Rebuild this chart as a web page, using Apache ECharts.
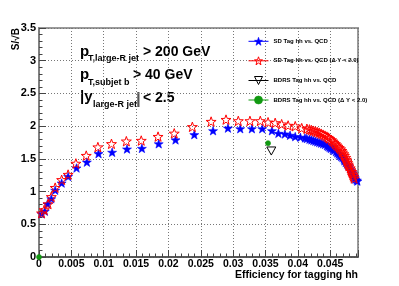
<!DOCTYPE html>
<html><head><meta charset="utf-8">
<script src="https://cdn.jsdelivr.net/npm/echarts@6/dist/echarts.min.js"></script>
<style>html,body{margin:0;padding:0;background:#fff}#c{width:399px;height:286px}</style>
</head><body><div id="c"></div>
<script>
// SD Tag hh vs. QCD
var blueX = [0.0004,0.0009,0.0013,0.0019,0.0025,0.0035,0.0045,0.0058,0.0074,0.0092,0.0113,0.0136,0.0159,0.0185,0.0211,0.0240,0.0269,0.0292,0.0311,0.0329,0.0345,0.0360,0.0370,0.0380,0.0388,0.0396,0.0404,
  0.0411,0.0414,0.0418,0.0421,0.0424,0.0427,0.0430,0.0433,0.0436,0.0439,0.0442,0.0445,0.0447,0.0449,0.0451,0.0454,0.0456,0.0459,0.0461,0.0463,0.0465,0.0467,0.0469,0.0471,0.0472,0.0474,0.0476,0.0478,0.0479,0.0481,0.0482,0.0484,0.0485,0.0486,0.0487,0.0488,0.0489,0.0491,0.0492];
var blueY = [0.66,0.70,0.81,0.89,1.02,1.13,1.23,1.36,1.45,1.58,1.60,1.65,1.66,1.73,1.79,1.87,1.93,1.97,1.96,1.96,1.96,1.93,1.89,1.88,1.86,1.84,1.83,
  1.82,1.81,1.80,1.79,1.78,1.77,1.76,1.75,1.74,1.73,1.72,1.70,1.69,1.675,1.66,1.645,1.63,1.61,1.59,1.57,1.55,1.535,1.52,1.495,1.47,1.445,1.42,1.40,1.38,1.35,1.32,1.30,1.28,1.255,1.23,1.21,1.19,1.175,1.16];
// SD Tag hh vs. QCD (ΔY < 2.0)
var redX = [0.0004,0.0008,0.0014,0.0019,0.0025,0.0035,0.0045,0.0057,0.0073,0.0091,0.0112,0.0135,0.0158,0.0184,0.0209,0.0237,0.0266,0.0289,0.0308,0.0326,0.0342,0.0354,0.0365,0.0375,0.0385,0.0396,0.0406,
  0.0414,0.0418,0.0421,0.0424,0.0427,0.0430,0.0433,0.0436,0.0439,0.0442,0.0445,0.0447,0.0449,0.0452,0.0454,0.0456,0.0458,0.0460,0.0462,0.0464,0.0466,0.0468,0.0469,0.0471,0.0472,0.0474,0.0475,0.0476,0.0477,0.0478,0.0479,0.0481,0.0482,0.0483,0.0484,0.0485,0.0486,0.0487];
var redY = [0.67,0.72,0.81,0.92,1.06,1.18,1.26,1.43,1.55,1.68,1.73,1.77,1.78,1.84,1.89,1.99,2.07,2.10,2.08,2.08,2.08,2.06,2.05,2.03,2.01,2.00,1.97,
  1.96,1.95,1.94,1.93,1.92,1.91,1.90,1.885,1.87,1.855,1.84,1.825,1.81,1.79,1.77,1.75,1.73,1.71,1.69,1.67,1.65,1.625,1.60,1.575,1.55,1.52,1.49,1.465,1.44,1.415,1.39,1.36,1.33,1.305,1.28,1.255,1.23,1.20];
// BDRS Tag hh vs. QCD
var bdrsX = [0.0359];
var bdrsY = [1.62];
// BDRS Tag hh vs. QCD (ΔY < 2.0)
var bdrsDyX = [0.0, 0.0354];
var bdrsDyY = [0.0, 1.74];
var xTicks = [0,0.005,0.01,0.015,0.02,0.025,0.03,0.035,0.04,0.045];
var yTicks = [0,0.5,1,1.5,2,2.5,3,3.5];
var names = ['SD Tag hh vs. QCD','SD Tag hh vs. QCD (\u0394 Y < 2.0)','BDRS Tag hh vs. QCD','BDRS Tag hh vs. QCD (\u0394 Y < 2.0)'];

function zip(a,b){return a.map(function(v,i){return [v,b[i]];});}
var STAR = 'path://M0,-10L2.35,-3.24L9.51,-3.09L3.8,1.24L5.88,8.09L0,4L-5.88,8.09L-3.8,1.24L-9.51,-3.09L-2.35,-3.24Z';
var TRI = 'path://M0,0L10,0L5,9Z';
var FF = '"Liberation Sans", Arial, Helvetica, sans-serif';
var COLORS = ['#0000ff','#ff0000','#000000','#119911'];
var FILLS = ['#0000ff','transparent','transparent','#119911'];

var chart = echarts.init(document.getElementById('c'), null, {renderer:'canvas'});
function mkSeries(i, data, sym, size, z){
  return {name:names[i], type:'line', data:data, symbol:sym, symbolSize:size, symbolKeepAspect:true,
    showSymbol:true, showAllSymbol:true, z:z,
    lineStyle:{color:COLORS[i], width:0},
    itemStyle:{color:FILLS[i], borderColor:COLORS[i], borderWidth:FILLS[i]==='transparent'?1:0.6},
    emphasis:{disabled:true}, silent:true};
}
var opt = {
  animation:false,
  grid:{left:39,right:41,top:28,bottom:29,show:true,borderColor:'#9a9a9a',borderWidth:2,backgroundColor:'transparent'},
  xAxis:{type:'value',min:0,max:0.0493,interval:0.005,
    axisLine:{show:true,onZero:false,lineStyle:{color:'#444',width:1.5}},
    axisTick:{show:true,inside:true,length:7,lineStyle:{color:'#444'}},
    minorTick:{show:true,splitNumber:5,length:3.5,lineStyle:{color:'#444'}},
    splitLine:{show:true,lineStyle:{color:'#777',width:1,type:[1,2]}},
    axisLabel:{color:'#000',fontWeight:'bold',fontSize:10.5,fontFamily:FF,margin:2,showMaxLabel:false,
      formatter:function(v){return String(+v.toFixed(4));}}},
  yAxis:{type:'value',min:0,max:3.5,interval:0.5,
    axisLine:{show:true,onZero:false,lineStyle:{color:'#777',width:1.5}},
    axisTick:{show:true,inside:true,length:7,lineStyle:{color:'#444'}},
    minorTick:{show:true,splitNumber:5,length:3.5,lineStyle:{color:'#444'}},
    splitLine:{show:true,lineStyle:{color:'#777',width:1,type:[1,2]}},
    axisLabel:{color:'#000',fontWeight:'bold',fontSize:11,fontFamily:FF,margin:3,
      formatter:function(v){return String(+v.toFixed(2));}}},
  legend:{orient:'vertical',left:243,top:32,itemWidth:20,itemHeight:10,itemGap:10.7,
    selectedMode:false,
    data:names.map(function(n,i){return {name:n,
      itemStyle:{color:FILLS[i],borderColor:COLORS[i],borderWidth:FILLS[i]==='transparent'?1:0.6},
      lineStyle:{color:COLORS[i],width:1,opacity:1}};}),
    lineStyle:{width:1,opacity:1},
    textStyle:{fontSize:6,fontWeight:'bold',color:'#000',fontFamily:FF}},
  series:[
    mkSeries(0, zip(blueX,blueY), STAR, 9, 2),
    mkSeries(1, zip(redX,redY), STAR, 10, 3),
    mkSeries(2, zip(bdrsX,bdrsY), TRI, 9, 4),
    mkSeries(3, zip(bdrsDyX,bdrsDyY), 'circle', 5, 5)
  ],
  graphic:[
    {type:'text',x:16,y:28,rotation:Math.PI/2,style:{text:'S/\u221AB',font:'bold 10px '+FF,fill:'#000',align:'right',verticalAlign:'middle'}},
    {type:'text',x:358,y:275,style:{text:'Efficiency for tagging hh',font:'bold 10.5px '+FF,fill:'#000',align:'right',verticalAlign:'middle'}},
    {type:'text',x:80,y:52,style:{text:'p',font:'bold 15px '+FF,fill:'#000',verticalAlign:'middle'}},
    {type:'text',x:88,y:58.5,style:{text:'T,large-R jet',font:'bold 9px '+FF,fill:'#000',verticalAlign:'middle'}},
    {type:'text',x:143,y:52,style:{text:'> 200 GeV',font:'bold 14px '+FF,fill:'#000',verticalAlign:'middle'}},
    {type:'text',x:80,y:75,style:{text:'p',font:'bold 15px '+FF,fill:'#000',verticalAlign:'middle'}},
    {type:'text',x:88,y:83,style:{text:'T,subjet b',font:'bold 9px '+FF,fill:'#000',verticalAlign:'middle'}},
    {type:'text',x:133,y:75,style:{text:'> 40 GeV',font:'bold 14px '+FF,fill:'#000',verticalAlign:'middle'}},
    {type:'text',x:80,y:97,style:{text:'|y',font:'bold 15px '+FF,fill:'#000',verticalAlign:'middle'}},
    {type:'text',x:93,y:105,style:{text:'large-R jet',font:'bold 9px '+FF,fill:'#000',verticalAlign:'middle'}},
    {type:'text',x:136,y:99,style:{text:'|',font:'bold 17px '+FF,fill:'#555',verticalAlign:'middle'}},
    {type:'text',x:143,y:98,style:{text:'< 2.5',font:'bold 14px '+FF,fill:'#000',verticalAlign:'middle'}}
  ]
};
chart.setOption(opt);
</script></body></html>
